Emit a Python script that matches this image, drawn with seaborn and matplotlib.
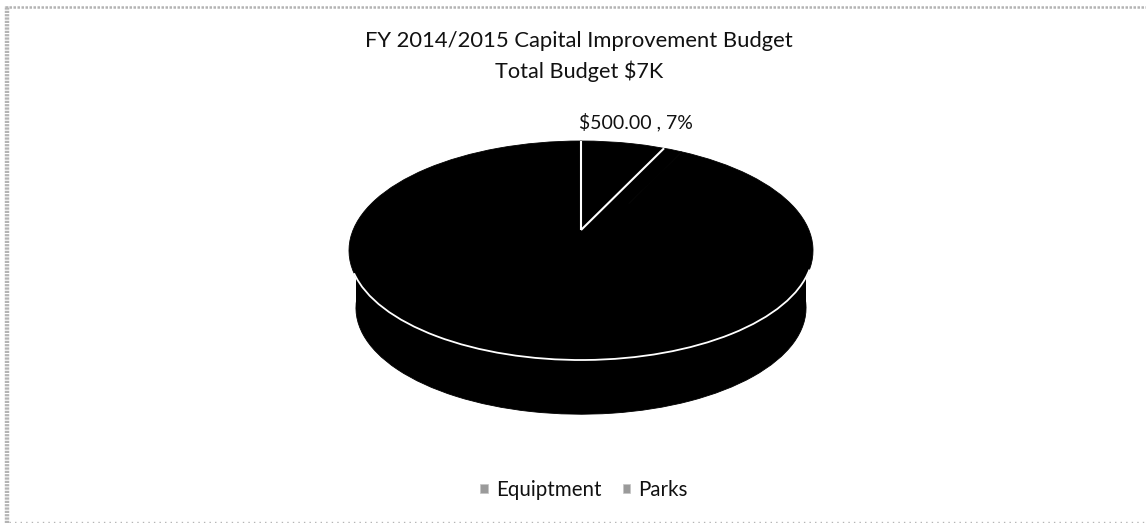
import matplotlib
matplotlib.use("Agg")
import matplotlib.pyplot as plt
from matplotlib.lines import Line2D
from matplotlib.patches import Arc, Patch
import numpy as np
import seaborn as sns

# Values
categories = ["Equiptment", "Parks"]
budget = [500, 6500]
title_lines = ["FY 2014/2015 Capital Improvement Budget", "Total Budget $7K"]

W, H = 1146, 523
WALL_CENTER = -0.525  # centre of the lower ellipse, in pie radii
WALL_RADIUS = 0.97    # the lower ellipse is a bit smaller in the 3D view
APEX = 0.187          # the 3D view moves the apex up from the ellipse centre
SQUEEZE = 0.825       # and pulls the far slice edge towards the middle


def main():
    sns.set_theme(style="white")
    plt.rcParams['font.family'] = ['Lato', 'DejaVu Sans']

    fig = plt.figure(figsize=(W / 100, H / 100), dpi=100, facecolor="white")

    # Axes span the pie from the top of the ellipse to the bottom of the wall
    ax = fig.add_axes([349 / W, (H - 414) / H, 464 / W, 273 / H])
    colors = sns.color_palette(["#000000", "#000000"])
    wedge_style = {"linewidth": 0.6, "edgecolor": "black"}

    # wall first, then the top face
    ax.pie(budget, colors=colors, startangle=90, counterclock=False,
           center=(0, WALL_CENTER), radius=WALL_RADIUS, wedgeprops=wedge_style)
    ax.fill_between([-WALL_RADIUS, WALL_RADIUS], WALL_CENTER, 0, color="black", lw=0)
    ax.pie(budget, colors=colors, startangle=90, counterclock=False,
           center=(0, 0), radius=1, wedgeprops=wedge_style)
    ax.set_aspect("auto")
    ax.set_xlim(-1, 1)
    ax.set_ylim(-1.493, 1)

    # white slice edges and the rim in front
    share = budget[0] / sum(budget)
    edge_x = np.sin(2 * np.pi * share) * SQUEEZE
    edge_y = np.sqrt(1 - edge_x ** 2)
    ax.plot([0, 0], [APEX, 1], color="white", lw=1.5, solid_capstyle="butt")
    ax.plot([0, edge_x], [APEX, edge_y], color="white", lw=1.5, solid_capstyle="butt")
    ax.add_patch(Arc((0, 0), 2, 2, theta1=192, theta2=350, color="white", lw=1.3))

    # Title and data label
    fig.text(579 / W, 1 - 41 / H, title_lines[0], ha="center", va="center", fontsize=15.8, color="#111111")
    fig.text(579.5 / W, 1 - 71 / H, title_lines[1], ha="center", va="center", fontsize=15.6, color="#111111")
    label = f"${budget[0]:,.2f} , {100 * share:.0f}%"
    fig.text(636 / W, 1 - 122 / H, label, ha="center", va="center", fontsize=14, color="#111111")

    # Legend with the small grey squares
    handles = [Patch(facecolor="#9a9a9a", edgecolor="#c4c4c4", lw=0.5) for _ in categories]
    fig.legend(handles, categories, loc="center", bbox_to_anchor=(584 / W, 1 - 490 / H), ncol=2,
               frameon=False, fontsize=14.8, handlelength=0.35, handleheight=0.35,
               handletextpad=0.4, columnspacing=1.05, labelcolor="#111111")

    # Dotted grey frame of the original document
    frame = "#b4b4b4"
    fig.add_artist(Line2D([7 / W, 7 / W], [0, 1 - 6 / H], color=frame, lw=3.2, ls=(0, (0.5, 0.25))))
    fig.add_artist(Line2D([5 / W, 1], [1 - 7 / H, 1 - 7 / H], color=frame, lw=1.8, ls=(0, (1, 0.6))))
    fig.add_artist(Line2D([9 / W, 1], [1 - 522 / H, 1 - 522 / H], color=frame, lw=1, ls=(0, (1, 3))))

    fig.savefig("out.png", dpi=100)
    plt.close(fig)


if __name__ == "__main__":
    main()
